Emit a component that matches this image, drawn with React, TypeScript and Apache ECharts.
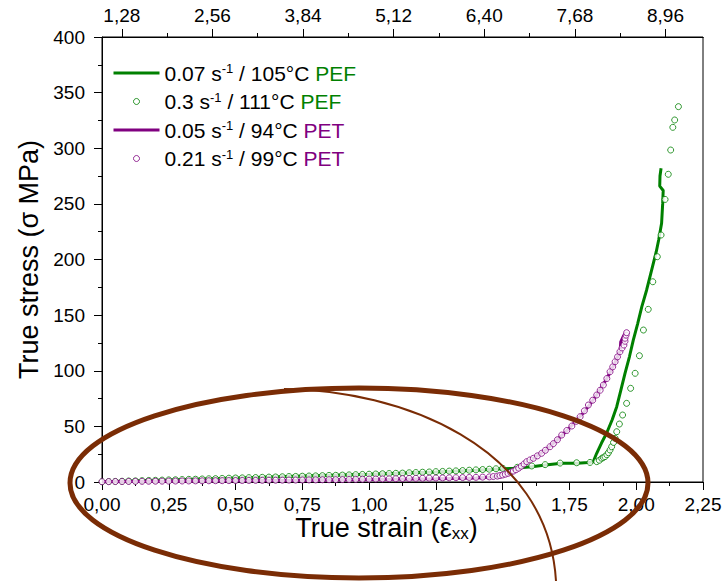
import React, { useEffect, useRef } from 'react';
import * as echarts from 'echarts';

// ---------- data ----------
const seriesNames = [
  '0.07 s-1 / 105°C PEF',
  '0.3 s-1 / 111°C PEF',
  '0.05 s-1 / 94°C PET',
  '0.21 s-1 / 99°C PET',
];
const legendRate = ['0.07', '0.3', '0.05', '0.21'];
const legendTemp = ['105', '111', '94', '99'];
const legendMaterial = ['PEF', 'PEF', 'PET', 'PET'];

// bottom axis (true strain) and left axis (true stress)
const strainMin = 0;
const strainMax = 2.25;
const strainStep = 0.25;
const stressMin = 0;
const stressMax = 400;
const stressStep = 50;

// top axis (stretch ratio)
const topMin = 1;
const topMax = 9.49;
const topMajorTicks = [1.28, 2.56, 3.84, 5.12, 6.4, 7.68, 8.96];
const topMinorTicks = [1.92, 3.2, 4.48, 5.76, 7.04, 8.32];

// 0.07 s-1 / 105°C PEF (line)
const pefSlowLine: [number, number][] = [
  [0, 0], [0.1, 0.8], [0.25, 1.8], [0.5, 3.6], [0.75, 5.3], [1.0, 7.0], [1.25, 9.0],
  [1.4, 10.5], [1.5, 11.8], [1.54, 12.3], [1.61, 13.8], [1.66, 15.3], [1.72, 16.8],
  [1.78, 16.9], [1.82, 17.5], [1.839, 18.2], [1.852, 25.8], [1.87, 35], [1.889, 43.8],
  [1.91, 56], [1.927, 67.7], [1.943, 83], [1.958, 97.7], [1.975, 113], [1.989, 127.6],
  [2.005, 142], [2.021, 157.6], [2.039, 172.6], [2.052, 185], [2.064, 196.6], [2.075, 207],
  [2.084, 217.5], [2.095, 232.5], [2.099, 250], [2.101, 262], [2.088, 266], [2.089, 275],
  [2.093, 282],
];

// 0.3 s-1 / 111°C PEF (circles)
const pefFastPoints: [number, number][] = [
  [0, 0.2], [0.025, 0.4], [0.05, 0.5], [0.075, 0.7], [0.1, 0.9], [0.125, 1.0], [0.15, 1.2],
  [0.175, 1.4], [0.2, 1.5], [0.225, 1.7], [0.25, 1.9], [0.275, 2.0], [0.3, 2.2], [0.325, 2.4],
  [0.35, 2.5], [0.375, 2.7], [0.4, 2.9], [0.425, 3.0], [0.45, 3.2], [0.475, 3.4], [0.5, 3.6],
  [0.525, 3.7], [0.55, 3.9], [0.575, 4.0], [0.6, 4.2], [0.625, 4.4], [0.65, 4.5], [0.675, 4.7],
  [0.7, 4.9], [0.725, 5.0], [0.75, 5.2], [0.775, 5.4], [0.8, 5.5], [0.825, 5.7], [0.85, 5.9],
  [0.875, 6.0], [0.9, 6.2], [0.925, 6.4], [0.95, 6.6], [0.975, 6.8], [1.0, 7.0], [1.025, 7.2],
  [1.05, 7.4], [1.075, 7.6], [1.1, 7.8], [1.125, 8.0], [1.15, 8.3], [1.175, 8.5], [1.2, 8.8],
  [1.225, 9.0], [1.25, 9.3], [1.275, 9.5], [1.3, 9.8], [1.325, 10.0], [1.35, 10.3], [1.375, 10.6],
  [1.4, 10.9], [1.425, 11.2], [1.45, 11.5], [1.475, 11.9], [1.5, 12.3], [1.555, 13.2],
  [1.609, 14.4], [1.659, 15.6], [1.715, 17.0], [1.777, 17.3], [1.827, 17.6], [1.852, 18.3],
  [1.862, 19.5], [1.871, 21.3], [1.877, 22.0], [1.883, 22.8], [1.89, 24.5], [1.896, 26.3],
  [1.902, 28.8], [1.908, 31.7], [1.915, 35.5], [1.921, 39.3], [1.927, 45.2], [1.937, 52.1],
  [1.949, 60.2], [1.964, 70.7], [1.979, 84.2], [1.996, 97.7], [2.012, 113.5], [2.027, 136.6],
  [2.045, 155.2], [2.062, 180], [2.079, 202.5], [2.093, 222], [2.108, 254], [2.12, 276.6],
  [2.129, 298.4], [2.137, 318.8], [2.144, 325.4], [2.158, 337.4],
];

// 0.05 s-1 / 94°C PET (line)
const petSlowLine: [number, number][] = [
  [0, 0.3], [0.25, 0.7], [0.5, 1.1], [0.75, 1.6], [1.0, 2.2], [1.25, 3.0], [1.4, 3.7],
  [1.47, 4.4], [1.5, 5.8], [1.53, 8.5], [1.56, 12.5], [1.59, 17.5], [1.62, 22], [1.66, 28.5],
  [1.7, 37], [1.75, 48.5], [1.8, 61.5], [1.85, 77.5], [1.89, 93], [1.92, 107], [1.94, 118],
  [1.942, 126], [1.952, 131], [1.962, 134], [1.958, 131.5],
];

// 0.21 s-1 / 99°C PET (circles)
const petFastPoints: [number, number][] = [
  [0, 0.3], [0.025, 0.35], [0.05, 0.4], [0.075, 0.45], [0.1, 0.5], [0.125, 0.55], [0.15, 0.6],
  [0.175, 0.65], [0.2, 0.7], [0.225, 0.75], [0.25, 0.8], [0.275, 0.85], [0.3, 0.9], [0.325, 0.95],
  [0.35, 1.0], [0.375, 1.05], [0.4, 1.1], [0.425, 1.15], [0.45, 1.2], [0.475, 1.25], [0.5, 1.3],
  [0.525, 1.35], [0.55, 1.4], [0.575, 1.45], [0.6, 1.5], [0.625, 1.55], [0.65, 1.6], [0.675, 1.65],
  [0.7, 1.7], [0.725, 1.75], [0.75, 1.8], [0.775, 1.85], [0.8, 1.9], [0.825, 2.0], [0.85, 2.05],
  [0.875, 2.1], [0.9, 2.2], [0.925, 2.3], [0.95, 2.4], [0.975, 2.5], [1.0, 2.6], [1.025, 2.7],
  [1.05, 2.8], [1.075, 2.9], [1.1, 3.0], [1.125, 3.1], [1.15, 3.2], [1.175, 3.3], [1.2, 3.4],
  [1.225, 3.5], [1.25, 3.6], [1.275, 3.7], [1.3, 3.8], [1.325, 3.9], [1.35, 4.0], [1.375, 4.1],
  [1.4, 4.2], [1.425, 4.4], [1.45, 4.6], [1.465, 4.9], [1.48, 5.3], [1.49, 5.8], [1.5, 6.3],
  [1.51, 7.0], [1.52, 7.8], [1.53, 8.7], [1.54, 9.8], [1.55, 11.0], [1.56, 12.4], [1.57, 14.2],
  [1.58, 16.2], [1.59, 18.3], [1.602, 19.8], [1.615, 21.3], [1.63, 23.5], [1.646, 25.8],
  [1.66, 28.5], [1.677, 31.7], [1.69, 34.5], [1.705, 38], [1.721, 42.2], [1.74, 46.3],
  [1.759, 50.3], [1.775, 54.5], [1.79, 58.7], [1.806, 64], [1.821, 69.2], [1.837, 73.5],
  [1.852, 78.2], [1.865, 82.5], [1.877, 87.2], [1.89, 93], [1.902, 99.1], [1.912, 103.5],
  [1.921, 108.1], [1.93, 112.5], [1.939, 117.1], [1.947, 120.5], [1.954, 123.1], [1.958, 126.5],
  [1.958, 129.2], [1.962, 132], [1.964, 134.2],
];

// ---------- styling ----------
const GREEN = '#008000';
const PURPLE = '#800080';
const BROWN = '#7A2C05';
const FONT = '"Liberation Sans", Arial, Helvetica, sans-serif';

const fmt2 = (v: number) => v.toFixed(2).replace('.', ',');

export default function App() {
  const ref = useRef<HTMLDivElement>(null);

  useEffect(() => {
    if (!ref.current) return;
    const chart = echarts.init(ref.current, undefined, { renderer: 'svg', width: 722, height: 581 });

    const legendFormatter = (name: string) => {
      const i = seriesNames.indexOf(name);
      const mat = legendMaterial[i];
      const key = mat === 'PEF' ? 'g' : 'p';
      return `{t|${legendRate[i]} s}{sup|-1}{t| / ${legendTemp[i]}°C }{${key}|${mat}}`;
    };

    const axisLineStyle = { color: '#000', width: 1 };

    const option: any = {
      animation: false,
      backgroundColor: '#fff',
      grid: [
        {
          left: 102, right: 19, top: 37, bottom: 99,
          show: true, borderColor: '#000', borderWidth: 1, backgroundColor: 'transparent',
          containLabel: false, outerBoundsMode: 'none',
        },
        {
          left: 102, right: 19, top: 37, bottom: 99,
          show: false, containLabel: false, outerBoundsMode: 'none',
        },
      ],
      legend: {
        orient: 'vertical',
        left: 112,
        top: 62,
        padding: 0,
        itemWidth: 46,
        itemHeight: 6,
        itemGap: 7,
        selectedMode: false,
        data: [
          { name: seriesNames[0], itemStyle: { color: 'rgba(0,0,0,0)', borderWidth: 0 }, lineStyle: { width: 3, color: GREEN } },
          { name: seriesNames[1], icon: 'circle', itemStyle: { color: '#fff', borderColor: GREEN, borderWidth: 1 } },
          { name: seriesNames[2], itemStyle: { color: 'rgba(0,0,0,0)', borderWidth: 0 }, lineStyle: { width: 3, color: PURPLE } },
          { name: seriesNames[3], icon: 'circle', itemStyle: { color: '#fff', borderColor: PURPLE, borderWidth: 1 } },
        ],
        formatter: legendFormatter,
        textStyle: {
          fontFamily: FONT,
          fontSize: 21,
          color: '#000',
          rich: {
            t: { fontFamily: FONT, fontSize: 21, color: '#000', lineHeight: 22 },
            sup: { fontFamily: FONT, fontSize: 13, color: '#000', verticalAlign: 'top', lineHeight: 12 },
            g: { fontFamily: FONT, fontSize: 21, color: GREEN, lineHeight: 22 },
            p: { fontFamily: FONT, fontSize: 21, color: PURPLE, lineHeight: 22 },
          },
        },
      },
      xAxis: [
        {
          type: 'value',
          gridIndex: 0,
          position: 'bottom',
          min: strainMin,
          max: strainMax,
          interval: strainStep,
          axisLine: { show: true, onZero: false, lineStyle: axisLineStyle },
          axisTick: { show: true, inside: false, length: 8, lineStyle: axisLineStyle },
          minorTick: { show: true, splitNumber: 2, length: 4, lineStyle: axisLineStyle },
          axisLabel: { formatter: fmt2, fontSize: 19, color: '#000', fontFamily: FONT, margin: 12, lineHeight: 20 },
          splitLine: { show: false },
          name: '{a|True strain (ε}{s|xx}{a|)}',
          nameLocation: 'middle',
          nameGap: 32,
          nameMoveOverlap: false,
          nameTextStyle: {
            fontFamily: FONT,
            fontSize: 27,
            color: '#000',
            padding: [0, 32, 0, 0],
            rich: {
              a: { fontFamily: FONT, fontSize: 27, color: '#000', lineHeight: 28 },
              s: { fontFamily: FONT, fontSize: 17, color: '#000', verticalAlign: 'bottom', lineHeight: 18 },
            },
          },
        },
        {
          type: 'value',
          gridIndex: 0,
          position: 'top',
          min: topMin,
          max: topMax,
          axisLine: { show: true, onZero: false, lineStyle: axisLineStyle },
          axisTick: { show: true, inside: false, length: 8, lineStyle: axisLineStyle, customValues: topMajorTicks },
          axisLabel: { show: true, formatter: fmt2, fontSize: 19, color: '#000', fontFamily: FONT, margin: 12, customValues: topMajorTicks },
          splitLine: { show: false },
        },
        {
          type: 'value',
          gridIndex: 1,
          position: 'top',
          min: topMin,
          max: topMax,
          axisLine: { show: true, onZero: false, lineStyle: axisLineStyle },
          axisTick: { show: true, inside: false, length: 4, lineStyle: axisLineStyle, customValues: topMinorTicks },
          axisLabel: { show: false, customValues: topMinorTicks },
          splitLine: { show: false },
        },
      ],
      yAxis: [
        {
          type: 'value',
          gridIndex: 0,
          position: 'left',
          min: stressMin,
          max: stressMax,
          interval: stressStep,
          axisLine: { show: true, onZero: false, lineStyle: axisLineStyle },
          axisTick: { show: true, inside: false, length: 8, lineStyle: axisLineStyle },
          minorTick: { show: true, splitNumber: 2, length: 4, lineStyle: axisLineStyle },
          axisLabel: { fontSize: 19, color: '#000', fontFamily: FONT, margin: 17 },
          splitLine: { show: false },
          name: 'True stress (σ MPa)',
          nameLocation: 'middle',
          nameGap: 54,
          nameTextStyle: { fontFamily: FONT, fontSize: 27, color: '#000' },
        },
        {
          type: 'value',
          gridIndex: 1,
          show: false,
          min: stressMin,
          max: stressMax,
          axisLine: { onZero: false },
        },
      ],
      series: [
        {
          name: seriesNames[0],
          type: 'line',
          xAxisIndex: 0,
          yAxisIndex: 0,
          data: pefSlowLine,
          symbol: 'none',
          showSymbol: false,
          lineStyle: { color: GREEN, width: 3 },
          itemStyle: { color: GREEN },
          z: 2,
        },
        {
          name: seriesNames[1],
          type: 'scatter',
          xAxisIndex: 0,
          yAxisIndex: 0,
          data: pefFastPoints,
          symbol: 'circle',
          symbolSize: 6,
          itemStyle: { color: '#fff', borderColor: GREEN, borderWidth: 1 },
          z: 3,
        },
        {
          name: seriesNames[2],
          type: 'line',
          xAxisIndex: 0,
          yAxisIndex: 0,
          data: petSlowLine,
          symbol: 'none',
          showSymbol: false,
          lineStyle: { color: PURPLE, width: 3 },
          itemStyle: { color: PURPLE },
          z: 4,
        },
        {
          name: seriesNames[3],
          type: 'scatter',
          xAxisIndex: 0,
          yAxisIndex: 0,
          data: petFastPoints,
          symbol: 'circle',
          symbolSize: 6,
          itemStyle: { color: '#fff', borderColor: PURPLE, borderWidth: 1 },
          z: 5,
        },
      ],
      graphic: [
        {
          type: 'ellipse',
          z: 100,
          silent: true,
          shape: { cx: 359, cy: 483, rx: 289, ry: 95 },
          style: { fill: 'none', stroke: BROWN, lineWidth: 5 },
        },
        {
          type: 'bezierCurve',
          z: 100,
          silent: true,
          shape: { x1: 284, y1: 389, cpx1: 400, cpy1: 390, cpx2: 548, cpy2: 445, x2: 556, y2: 581 },
          style: { fill: 'none', stroke: BROWN, lineWidth: 2 },
        },
      ],
    };

    chart.setOption(option);
    return () => {
      chart.dispose();
    };
  }, []);

  return (
    <div
      ref={ref}
      style={{ position: 'absolute', left: 0, top: 0, width: 722, height: 581 }}
    />
  );
}
